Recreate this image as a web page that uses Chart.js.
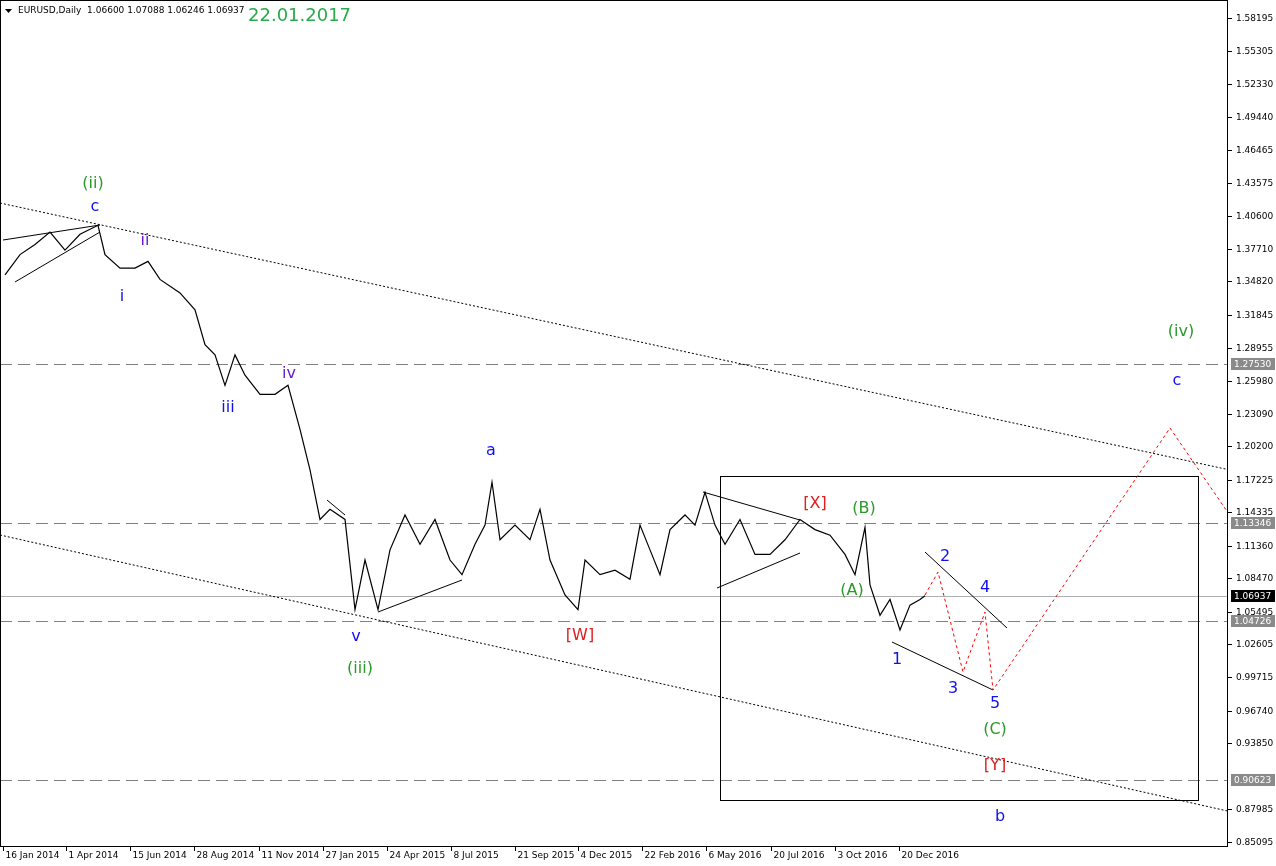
<!DOCTYPE html><html><head><meta charset="utf-8">
<script src="https://cdn.jsdelivr.net/npm/chart.js@4.4.0/dist/chart.umd.min.js"></script>
<style>html,body{margin:0;background:#fff}#w{width:1276px;height:866px}</style></head><body><div id="w"><canvas id="c"></canvas></div>
<script>
// x positions (time axis units) and close prices
const barPos=[5,20,35,50,65,80,98,105,120,135,148,160,180,195,205,215,225,235,245,260,275,288,300,310,320,330,345,355,365,378,390,405,420,435,450,462,475,485,492,500,515,530,540,550,565,578,585,600,615,630,640,650,660,670,685,695,705,715,725,740,755,770,785,800,815,830,845,855,865,870,880,890,900,910,920,925];
const closes=[1.354,1.372,1.381,1.392,1.376,1.390,1.398,1.372,1.360,1.360,1.366,1.350,1.338,1.323,1.292,1.283,1.256,1.283,1.265,1.248,1.248,1.256,1.217,1.181,1.137,1.146,1.137,1.057,1.101,1.057,1.110,1.141,1.115,1.137,1.101,1.088,1.115,1.132,1.170,1.119,1.132,1.119,1.146,1.101,1.070,1.057,1.101,1.088,1.092,1.084,1.132,1.110,1.088,1.128,1.141,1.132,1.161,1.132,1.115,1.137,1.106,1.106,1.119,1.137,1.128,1.123,1.106,1.088,1.130,1.079,1.052,1.066,1.039,1.061,1.066,1.06937];
const yTicks=[1.58195,1.55305,1.52330,1.49440,1.46465,1.43575,1.40600,1.37710,1.34820,1.31845,1.28955,1.25980,1.23090,1.20200,1.17225,1.14335,1.11360,1.08470,1.05495,1.02605,0.99715,0.96740,0.93850,0.87985,0.85095];
const levels=[1.27530,1.13346,1.04726,0.90623];
const lastPrice=1.06937;
const dateLabels=['16 Jan 2014','1 Apr 2014','15 Jun 2014','28 Aug 2014','11 Nov 2014','27 Jan 2015','24 Apr 2015','8 Jul 2015','21 Sep 2015','4 Dec 2015','22 Feb 2016','6 May 2016','20 Jul 2016','3 Oct 2016','20 Dec 2016'];
const dateTickPos=[3,66,130,194,259,323,387,451,515,578,642,706,771,835,899];
// helper: price from reference vertical position
const P=y=>1.58195-(y-18)/1127;
const waveLabels=[['(ii)',93,184,'#2a9a2a'],['c',95,207,'#1010ee'],['ii',145,241,'#6a1ad0'],['i',122,297,'#1010ee'],['iii',228,408,'#1010ee'],['iv',289,374,'#6a1ad0'],['v',356,637,'#1010ee'],['(iii)',360,669,'#2a9a2a'],['a',491,451,'#1010ee'],['[W]',580,636,'#e02020'],['[X]',815,504,'#e02020'],['(B)',864,509,'#2a9a2a'],['(A)',852,591,'#2a9a2a'],['2',945,557,'#1010ee'],['4',985,588,'#1010ee'],['1',897,660,'#1010ee'],['3',953,689,'#1010ee'],['5',995,704,'#1010ee'],['(C)',995,730,'#2a9a2a'],['[Y]',995,766,'#e02020'],['b',1000,817,'#1010ee'],['(iv)',1181,332,'#2a9a2a'],['c',1177,381,'#1010ee']];
const solidLines=[[3,240,100,225],[15,282,100,232],[327,500,345,515],[378,612,462,580],[703,492,800,520],[717,588,800,553],[925,552,1007,628],[892,642,993,690]];
const dottedLines=[[0,203,1276,480],[0,535,1232,812]];
const redPath=[[925,595],[938,572],[963,672],[985,612],[993,690],[1170,428],[1233,520]];
const box=[720,476,1198,800];

const ann={id:'ann',
beforeDatasetsDraw(ch){const c=ch.ctx,xs=ch.scales.x,ys=ch.scales.y,a=ch.chartArea;
 const X=v=>xs.getPixelForValue(v),Y=v=>ys.getPixelForValue(P(v));
 c.save();
 c.strokeStyle='#808080';c.lineWidth=1;c.setLineDash([12,6]);
 levels.forEach(l=>{const y=Math.round(ys.getPixelForValue(l))+.5;c.beginPath();c.moveTo(a.left,y);c.lineTo(a.right,y);c.stroke();});
 c.setLineDash([]);c.strokeStyle='#b0b0b0';
 let yl=Math.round(ys.getPixelForValue(lastPrice))+.5;c.beginPath();c.moveTo(a.left,yl);c.lineTo(a.right,yl);c.stroke();
 c.restore();},
afterDatasetsDraw(ch){const c=ch.ctx,xs=ch.scales.x,ys=ch.scales.y,a=ch.chartArea;
 const X=v=>xs.getPixelForValue(v),Y=v=>ys.getPixelForValue(P(v));
 c.save();
 c.beginPath();c.rect(a.left,a.top,a.right-a.left,a.bottom-a.top);c.clip();
 c.strokeStyle='#000';c.lineWidth=1;c.setLineDash([2,2]);
 dottedLines.forEach(l=>{c.beginPath();c.moveTo(X(l[0]),Y(l[1]));c.lineTo(X(l[2]),Y(l[3]));c.stroke();});
 c.setLineDash([]);
 solidLines.forEach(l=>{c.beginPath();c.moveTo(X(l[0]),Y(l[1]));c.lineTo(X(l[2]),Y(l[3]));c.stroke();});
 c.strokeRect(X(box[0])+.5,Y(box[1])+.5,X(box[2])-X(box[0]),Y(box[3])-Y(box[1]));
 c.strokeStyle='#ff0000';c.setLineDash([3,3]);c.beginPath();
 redPath.forEach((p,i)=>i?c.lineTo(X(p[0]),Y(p[1])):c.moveTo(X(p[0]),Y(p[1])));c.stroke();c.setLineDash([]);
 c.font='16px "DejaVu Sans"';c.textAlign='center';c.textBaseline='middle';
 waveLabels.forEach(w=>{c.fillStyle=w[3];c.fillText(w[0],X(w[1]),Y(w[2]));});
 c.restore();
 // frame
 c.save();c.strokeStyle='#000';c.lineWidth=1;
 c.strokeRect(a.left+.5,a.top+.5,a.right-a.left-1,a.bottom-a.top);
 // right axis
 c.font='9px "DejaVu Sans"';c.textAlign='left';c.textBaseline='middle';
 yTicks.forEach(t=>{const y=Math.round(ys.getPixelForValue(t))+.5;c.beginPath();c.moveTo(a.right,y);c.lineTo(a.right+4,y);c.stroke();c.fillStyle='#000';c.fillText(t.toFixed(5),a.right+8,y);});
 const tag=(v,bg,fg)=>{const y=Math.round(ys.getPixelForValue(v));c.fillStyle=bg;c.fillRect(a.right+3,y-6,44,12);c.fillStyle=fg;c.fillText(v.toFixed(5),a.right+6,y+.5);};
 levels.forEach(l=>tag(l,'#8a8a8a','#fff'));tag(lastPrice,'#000','#fff');
 // bottom axis
 c.textAlign='left';c.textBaseline='top';c.fillStyle='#000';
 dateTickPos.forEach((p,i)=>{const x=Math.round(xs.getPixelForValue(p))+.5;c.beginPath();c.moveTo(x,a.bottom);c.lineTo(x,a.bottom+5);c.stroke();c.fillText(dateLabels[i],x+2,a.bottom+5);});
 // header
 c.beginPath();c.moveTo(5,9);c.lineTo(12,9);c.lineTo(8.5,13);c.closePath();c.fill();
 c.font='9px "DejaVu Sans"';c.fillText('EURUSD,Daily  1.06600 1.07088 1.06246 1.06937',18,6);
 c.fillStyle='#2aaa4a';c.font='18px "DejaVu Sans"';c.fillText('22.01.2017',248,7);
 c.restore();}};
new Chart(document.getElementById('c'),{type:'line',
data:{datasets:[{data:barPos.map((x,i)=>({x,y:closes[i]})),borderColor:'#000',borderWidth:1.2,pointRadius:0,tension:0}]},
options:{animation:false,responsive:true,maintainAspectRatio:false,
layout:{padding:{left:0,top:0,right:48,bottom:20}},
plugins:{legend:{display:false},tooltip:{enabled:false}},
scales:{x:{type:'linear',min:0,max:1228,display:false},y:{min:P(846),max:P(0),display:false}}},
plugins:[ann]});
</script></body></html>
